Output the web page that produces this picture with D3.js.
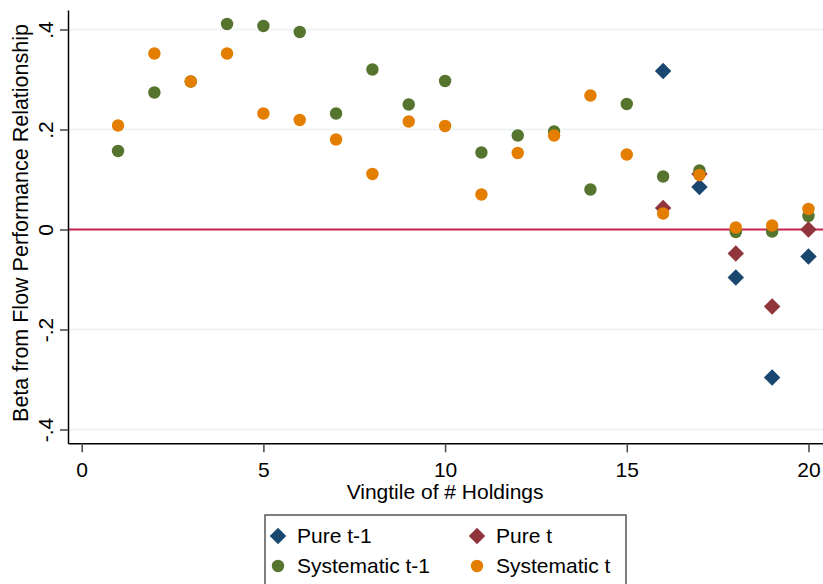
<!DOCTYPE html>
<html>
<head>
<meta charset="utf-8">
<script src="https://cdn.jsdelivr.net/npm/d3@7"></script>
<style>
  body { margin: 0; background: #fff; }
  text { font-family: "Liberation Sans", Arial, sans-serif; fill: #000; }
</style>
</head>
<body>
<div id="chart"></div>
<script>
// vingtiles of # holdings
var vingtiles = [1, 2, 3, 4, 5, 6, 7, 8, 9, 10, 11, 12, 13, 14, 15, 16, 17, 18, 19, 20];
var systematicLag = [0.157, 0.274, 0.296, 0.411, 0.407, 0.395, 0.232, 0.320, 0.250, 0.297,
                     0.154, 0.188, 0.196, 0.080, 0.251, 0.106, 0.118, -0.005, -0.004, 0.027];
var systematicNow = [0.208, 0.352, 0.296, 0.352, 0.232, 0.219, 0.180, 0.111, 0.216, 0.207,
                     0.070, 0.153, 0.188, 0.268, 0.150, 0.032, 0.109, 0.004, 0.008, 0.041];
// pure betas only exist for the top vingtiles
var pureVingtiles = [16, 17, 18, 19, 20];
var pureLag = [0.317, 0.085, -0.096, -0.296, -0.054];
var pureNow = [0.043, 0.111, -0.048, -0.154, 0.000];

var xTicks = [0, 5, 10, 15, 20];
var yTicks = [-0.4, -0.2, 0, 0.2, 0.4];
var yTickLabels = ["-.4", "-.2", "0", ".2", ".4"];

var width = 823, height = 584;

var svg = d3.select("#chart").append("svg")
  .attr("width", width)
  .attr("height", height);

var x = d3.scaleLinear().domain([-0.377, 20.4]).range([68, 823]);
var y = d3.scaleLinear().domain([-0.4276, 0.439]).range([443.3, 10]);

// gridlines
svg.append("g")
  .selectAll("line")
  .data(yTicks.filter(function (d) { return d !== 0; }))
  .join("line")
  .attr("x1", 68).attr("x2", width)
  .attr("y1", function (d) { return y(d); })
  .attr("y2", function (d) { return y(d); })
  .attr("stroke", "#eaf2f3")
  .attr("stroke-width", 1.5);

// zero reference line
svg.append("line")
  .attr("x1", 68).attr("x2", width)
  .attr("y1", y(0)).attr("y2", y(0))
  .attr("stroke", "#c8234b")
  .attr("stroke-width", 2);

// axes
var xAxis = svg.append("g")
  .attr("transform", "translate(0," + y.range()[0] + ")")
  .call(d3.axisBottom(x).tickValues(xTicks).tickSize(9).tickPadding(10).tickSizeOuter(0));
xAxis.select(".domain").attr("stroke", "#000").attr("stroke-width", 1.5);
xAxis.selectAll(".tick line").attr("stroke", "#444").attr("stroke-width", 1.5);
xAxis.selectAll(".tick text").style("font-size", "21px").attr("font-family", null);

var yAxis = svg.append("g")
  .attr("transform", "translate(" + x.range()[0] + ",0)")
  .call(d3.axisLeft(y).tickValues(yTicks).tickSize(8).tickSizeOuter(0)
    .tickFormat(function (d, i) { return yTickLabels[i]; }));
yAxis.select(".domain").attr("stroke", "#000").attr("stroke-width", 1.5);
yAxis.selectAll(".tick line").attr("stroke", "#444").attr("stroke-width", 1.5);
yAxis.selectAll(".tick text")
  .attr("x", null).attr("dy", null)
  .attr("transform", "translate(-15,0) rotate(-90)")
  .attr("text-anchor", "middle")
  .style("font-size", "21px")
  .attr("font-family", null);

// axis titles
svg.append("text")
  .attr("x", (x(0) + x(20)) / 2)
  .attr("y", 499)
  .attr("text-anchor", "middle")
  .style("font-size", "21px")
  .text("Vingtile of # Holdings");

svg.append("text")
  .attr("transform", "translate(28,223) rotate(-90)")
  .attr("text-anchor", "middle")
  .style("font-size", "21.5px")
  .text("Beta from Flow Performance Relationship");

var diamond = d3.symbol().type(d3.symbolSquare).size(135);

function drawDiamonds(xs, ys, color) {
  svg.append("g")
    .selectAll("path")
    .data(xs)
    .join("path")
    .attr("d", diamond)
    .attr("transform", function (d, i) {
      return "translate(" + x(d) + "," + y(ys[i]) + ") rotate(45)";
    })
    .attr("fill", color);
}

function drawCircles(xs, ys, color) {
  svg.append("g")
    .selectAll("circle")
    .data(xs)
    .join("circle")
    .attr("cx", function (d) { return x(d); })
    .attr("cy", function (d, i) { return y(ys[i]); })
    .attr("r", 6.2)
    .attr("fill", color);
}

drawDiamonds(pureVingtiles, pureLag, "#1a476f");
drawDiamonds(pureVingtiles, pureNow, "#90353b");
drawCircles(vingtiles, systematicLag, "#55752f");
drawCircles(vingtiles, systematicNow, "#e37e00");

// legend
var legendItems = [
  { label: "Pure t-1", color: "#1a476f", shape: "diamond", col: 0, row: 0 },
  { label: "Pure t", color: "#90353b", shape: "diamond", col: 1, row: 0 },
  { label: "Systematic t-1", color: "#55752f", shape: "circle", col: 0, row: 1 },
  { label: "Systematic t", color: "#e37e00", shape: "circle", col: 1, row: 1 }
];

svg.append("rect")
  .attr("x", 265).attr("y", 515)
  .attr("width", 361).attr("height", 90)
  .attr("fill", "#fff")
  .attr("stroke", "#555")
  .attr("stroke-width", 1.5);

var legend = svg.append("g")
  .selectAll("g")
  .data(legendItems)
  .join("g")
  .attr("transform", function (d) {
    return "translate(" + (d.col === 0 ? 278 : 477) + "," + (d.row === 0 ? 536 : 566) + ")";
  });

legend.each(function (d) {
  var g = d3.select(this);
  if (d.shape === "diamond") {
    g.append("path").attr("d", diamond).attr("transform", "rotate(45)").attr("fill", d.color);
  } else {
    g.append("circle").attr("r", 6.2).attr("fill", d.color);
  }
  g.append("text")
    .attr("x", 19)
    .attr("dy", "0.35em")
    .style("font-size", "21px")
    .text(d.label);
});
</script>
</body>
</html>
